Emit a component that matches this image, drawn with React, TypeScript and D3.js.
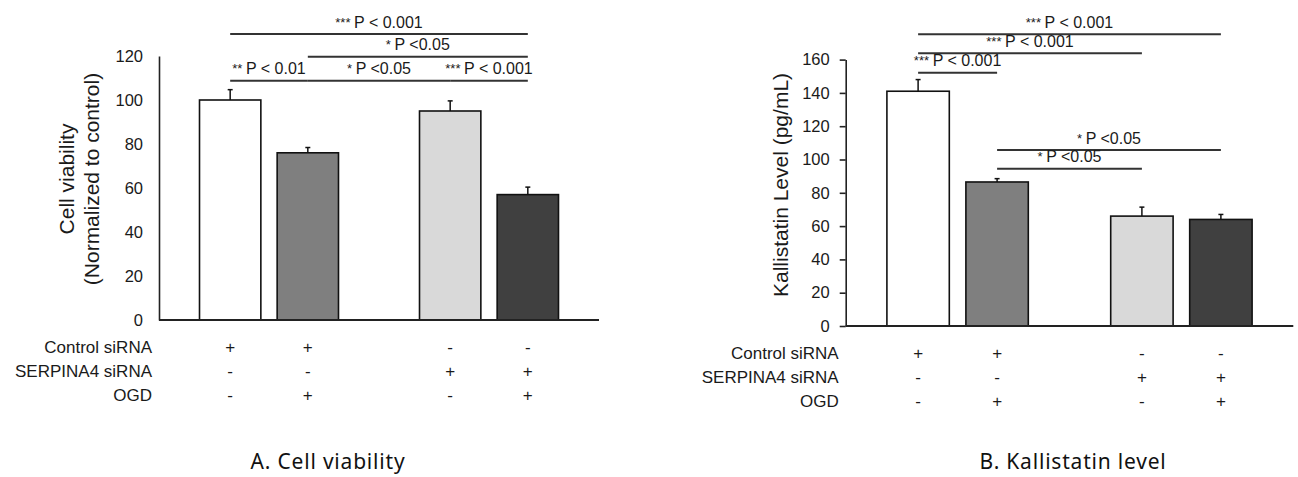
import React, { useRef, useEffect } from 'react';
import * as d3 from 'd3';

// treatment groups and the OGD split inside each group
const siRNAGroups = ['Control siRNA', 'SERPINA4 siRNA'];
const ogdStates = ['normoxia', 'OGD'];
const barColors = ['#ffffff', '#7f7f7f', '#d9d9d9', '#404040'];

// condition table under the bars
const conditionRows = ['Control siRNA', 'SERPINA4 siRNA', 'OGD'];
const conditionSigns = [
  ['+', '+', '-', '-'],
  ['-', '-', '+', '+'],
  ['-', '+', '-', '+'],
];

// A. cell viability
const viabilityMeans = [100, 76, 95, 57];
const viabilityErrors = [4.7, 2.4, 4.6, 3.4];
const viabilityTicks = [0, 20, 40, 60, 80, 100, 120];
const viabilitySig = [
  { from: 0, to: 3, level: 130, stars: '***', text: 'P < 0.001' },
  { from: 1, to: 3, level: 119.7, stars: '*', text: 'P <0.05' },
  { from: 0, to: 1, level: 108.8, stars: '**', text: 'P < 0.01' },
  { from: 1, to: 2, level: 108.8, stars: '*', text: 'P <0.05' },
  { from: 2, to: 3, level: 108.8, stars: '***', text: 'P < 0.001' },
];

// B. kallistatin level
const kallistatinMeans = [141, 86.5, 66, 64];
const kallistatinErrors = [7, 2, 5.4, 3];
const kallistatinTicks = [0, 20, 40, 60, 80, 100, 120, 140, 160];
const kallistatinSig = [
  { from: 0, to: 3, level: 175.2, stars: '***', text: 'P < 0.001' },
  { from: 0, to: 2, level: 163.8, stars: '***', text: 'P < 0.001' },
  { from: 0, to: 1, level: 152.1, stars: '***', text: 'P < 0.001' },
  { from: 1, to: 3, level: 105.7, stars: '*', text: 'P <0.05' },
  { from: 1, to: 2, level: 94.5, stars: '*', text: 'P <0.05' },
];

const FONT = '"Liberation Sans", Arial, sans-serif';
const INK = '#1a1a1a';

const drawPanel = (svg, cfg) => {
  const g = svg.append('g');

  //outer scale for siRNA groups, inner for OGD
  const x0 = d3
    .scaleBand()
    .domain(siRNAGroups)
    .range(cfg.xRange)
    .paddingInner(0.22)
    .paddingOuter(0.11);
  const x1 = d3
    .scaleBand()
    .domain(ogdStates)
    .range([0, x0.bandwidth()])
    .padding(0.21);
  const barX = (i) => x0(siRNAGroups[Math.floor(i / 2)]) + x1(ogdStates[i % 2]);
  const barMid = (i) => barX(i) + x1.bandwidth() / 2;

  const y = d3.scaleLinear().domain([0, cfg.max]).range(cfg.yRange);

  // y axis
  const axis = g
    .append('g')
    .attr('transform', `translate(${cfg.xRange[0]},0)`)
    .call(
      d3
        .axisLeft(y)
        .tickValues(cfg.ticks)
        .tickSizeOuter(0)
        .tickSizeInner(cfg.tickSize)
        .tickPadding(cfg.tickPadding)
    );
  axis.selectAll('path, line').attr('stroke', '#222').attr('stroke-width', 1.6);
  axis
    .selectAll('text')
    .attr('fill', INK)
    .style('font-family', FONT)
    .style('font-size', '16.5px');

  // bars
  g.selectAll('rect.bar')
    .data(cfg.means)
    .enter()
    .append('rect')
    .attr('class', 'bar')
    .attr('x', (d, i) => barX(i))
    .attr('y', (d) => y(d))
    .attr('width', x1.bandwidth())
    .attr('height', (d) => y(0) - y(d))
    .attr('fill', (d, i) => barColors[i])
    .attr('stroke', '#111')
    .attr('stroke-width', 1.6);

  // error bars (upper only)
  cfg.means.forEach((m, i) => {
    const cx = barMid(i);
    const top = y(m + cfg.errors[i]);
    g.append('line')
      .attr('x1', cx).attr('x2', cx)
      .attr('y1', y(m)).attr('y2', top)
      .attr('stroke', '#111').attr('stroke-width', 1.5);
    g.append('line')
      .attr('x1', cx - 2.5).attr('x2', cx + 2.5)
      .attr('y1', top).attr('y2', top)
      .attr('stroke', '#111').attr('stroke-width', 1.5);
  });

  // baseline
  g.append('line')
    .attr('x1', cfg.xRange[0]).attr('x2', cfg.xRange[1])
    .attr('y1', y(0)).attr('y2', y(0))
    .attr('stroke', '#222').attr('stroke-width', 1.8);

  // significance brackets
  cfg.sig.forEach((s) => {
    const xa = barMid(s.from);
    const xb = barMid(s.to);
    const ly = y(s.level);
    g.append('line')
      .attr('x1', xa).attr('x2', xb)
      .attr('y1', ly).attr('y2', ly)
      .attr('stroke', '#333').attr('stroke-width', 2);
    const t = g
      .append('text')
      .attr('x', (xa + xb) / 2)
      .attr('y', ly - 6.5)
      .attr('text-anchor', 'middle')
      .attr('fill', INK)
      .style('font-family', FONT)
      .style('font-size', '16px');
    t.append('tspan').style('font-size', '13px').attr('dy', -1).text(s.stars + ' ');
    t.append('tspan').attr('dy', 1).text(s.text);
  });

  // condition table
  conditionRows.forEach((row, r) => {
    const ry = y(0) + 33 + 23.8 * r;
    g.append('text')
      .attr('x', cfg.xRange[0] - 7)
      .attr('y', ry)
      .attr('text-anchor', 'end')
      .attr('fill', INK)
      .style('font-family', FONT)
      .style('font-size', '17px')
      .text(row);
    conditionSigns[r].forEach((sign, i) => {
      g.append('text')
        .attr('x', barMid(i))
        .attr('y', ry)
        .attr('text-anchor', 'middle')
        .attr('fill', INK)
        .style('font-family', FONT)
        .style('font-size', '17px')
        .text(sign);
    });
  });

  // y axis title
  cfg.yTitle.forEach((line, k) => {
    g.append('text')
      .attr('transform', `translate(${cfg.yTitleX[k]},${cfg.yTitleY}) rotate(-90)`)
      .attr('text-anchor', 'middle')
      .attr('fill', INK)
      .style('font-family', FONT)
      .style('font-size', '21px')
      .text(line);
  });

  // panel caption
  g.append('text')
    .attr('x', cfg.captionX)
    .attr('y', 469)
    .attr('text-anchor', 'middle')
    .attr('fill', '#111')
    .style('font-family', '"Noto Sans", sans-serif')
    .style('font-size', '21px')
    .style('letter-spacing', '0.8px')
    .text(cfg.caption);
};

const App = () => {
  const chart = useRef(null);

  useEffect(() => {
    d3.select(chart.current).selectAll('*').remove();

    const svg = d3
      .select(chart.current)
      .append('svg')
      .attr('width', 1298)
      .attr('height', 477)
      .style('position', 'absolute')
      .style('left', 0)
      .style('top', 0)
      .style('background-color', '#fff');

    drawPanel(svg, {
      xRange: [159, 599],
      yRange: [320, 56],
      max: 120,
      ticks: viabilityTicks,
      tickSize: 0,
      tickPadding: 16,
      means: viabilityMeans,
      errors: viabilityErrors,
      sig: viabilitySig,
      yTitle: ['Cell viability', '(Normalized to control)'],
      yTitleX: [74, 98.5],
      yTitleY: 179,
      caption: 'A. Cell viability',
      captionX: 328,
    });

    drawPanel(svg, {
      xRange: [845.7, 1293.3],
      yRange: [326, 59.6],
      max: 160,
      ticks: kallistatinTicks,
      tickSize: 6,
      tickPadding: 10,
      means: kallistatinMeans,
      errors: kallistatinErrors,
      sig: kallistatinSig,
      yTitle: ['Kallistatin Level (pg/mL)'],
      yTitleX: [788],
      yTitleY: 185,
      caption: 'B. Kallistatin level',
      captionX: 1073,
    });
  }, []);

  return <div ref={chart}></div>;
};

export default App;
